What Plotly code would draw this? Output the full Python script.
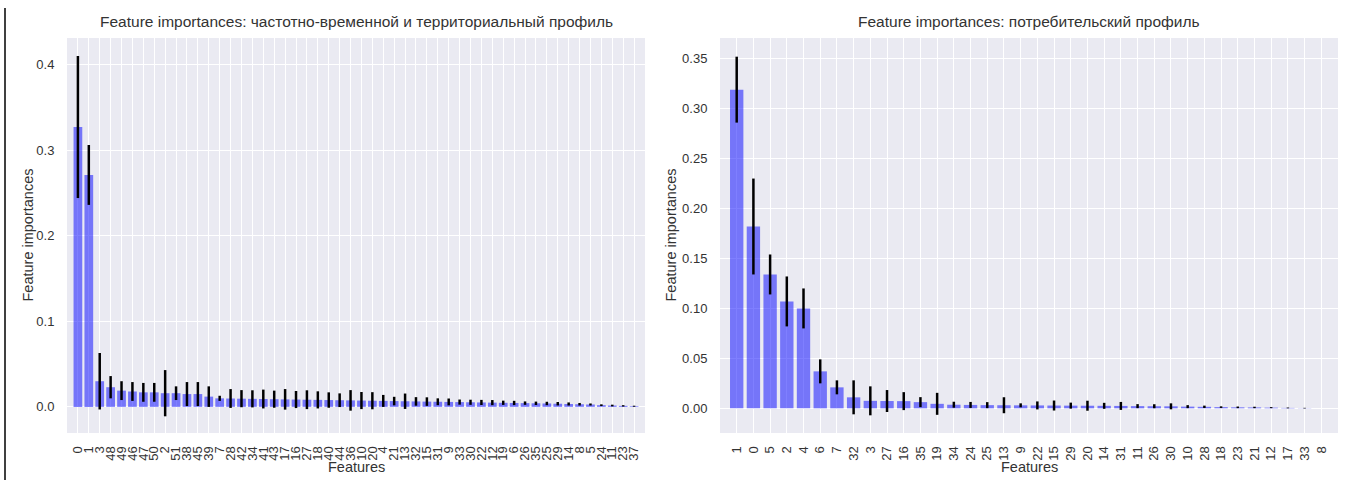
import plotly.graph_objects as go

# ---- data: left chart (частотно-временной и территориальный профиль) ----
left_features = ["0", "1", "3", "48", "49", "46", "47", "50", "2", "51",
                 "38", "45", "39", "7", "28", "42", "34", "41", "43", "17",
                 "16", "27", "18", "40", "44", "36", "10", "20", "4", "21",
                 "13", "32", "15", "31", "9", "33", "30", "22", "12", "19",
                 "6", "26", "35", "25", "29", "14", "8", "5", "24", "11",
                 "23", "37"]
left_importance = [0.327, 0.271, 0.030, 0.023, 0.019, 0.018, 0.017, 0.017, 0.016, 0.016,
                   0.015, 0.015, 0.012, 0.010, 0.0098, 0.0096, 0.0094, 0.0092, 0.0090, 0.0088,
                   0.0086, 0.0084, 0.0082, 0.0080, 0.0078, 0.0076, 0.0074, 0.0072, 0.0070, 0.0068,
                   0.0066, 0.0064, 0.0062, 0.0060, 0.0058, 0.0056, 0.0054, 0.0052, 0.0050, 0.0048,
                   0.0046, 0.0044, 0.0042, 0.0040, 0.0037, 0.0034, 0.0031, 0.0028, 0.0020, 0.0016,
                   0.0012, 0.0008]
left_std = [0.083, 0.035, 0.033, 0.013, 0.011, 0.011, 0.011, 0.011, 0.027, 0.008,
            0.014, 0.014, 0.012, 0.003, 0.011, 0.010, 0.010, 0.011, 0.010, 0.012,
            0.010, 0.011, 0.010, 0.009, 0.008, 0.012, 0.010, 0.010, 0.007, 0.005,
            0.009, 0.005, 0.005, 0.004, 0.004, 0.003, 0.003, 0.003, 0.003, 0.0025,
            0.0025, 0.002, 0.002, 0.002, 0.002, 0.0018, 0.0015, 0.0012, 0.001, 0.001,
            0.0008, 0.0006]

# ---- data: right chart (потребительский профиль) ----
right_features = ["1", "0", "5", "2", "4", "6", "7", "32", "3", "27",
                  "16", "35", "19", "34", "24", "25", "13", "9", "22", "15",
                  "29", "20", "14", "31", "11", "26", "30", "10", "28", "18",
                  "23", "21", "12", "17", "33", "8"]
right_importance = [0.319, 0.182, 0.134, 0.107, 0.100, 0.037, 0.021, 0.011, 0.0075, 0.0073,
                    0.0072, 0.0062, 0.0045, 0.0036, 0.0034, 0.0032, 0.0031, 0.0030, 0.0029, 0.0028,
                    0.0027, 0.0026, 0.0025, 0.0024, 0.0022, 0.0021, 0.0020, 0.0017, 0.0015, 0.0012,
                    0.0010, 0.0009, 0.0007, 0.0004, 0.0002, 0.0]
right_std = [0.033, 0.048, 0.020, 0.025, 0.020, 0.012, 0.007, 0.017, 0.0145, 0.011,
             0.009, 0.005, 0.011, 0.003, 0.003, 0.003, 0.008, 0.002, 0.004, 0.005,
             0.003, 0.005, 0.003, 0.004, 0.002, 0.002, 0.003, 0.0015, 0.0012, 0.0008,
             0.0008, 0.0007, 0.0005, 0.0004, 0.0003, 0.0]

left_yticks = [0.0, 0.1, 0.2, 0.3, 0.4]
left_yticktext = ["0.0", "0.1", "0.2", "0.3", "0.4"]
right_yticks = [0.0, 0.05, 0.10, 0.15, 0.20, 0.25, 0.30, 0.35]
right_yticktext = ["0.00", "0.05", "0.10", "0.15", "0.20", "0.25", "0.30", "0.35"]

left_title = "Feature importances: частотно-временной и территориальный профиль"
right_title = "Feature importances: потребительский профиль"
x_label = "Features"
y_label = "Feature importances"

W, H = 1347, 480
FONT = "Liberation Sans, Arial, sans-serif"
TXT = "#333333"
BG = "#EAEAF2"
BAR = "rgba(0,0,255,0.5)"
TICK_SIZE = 13
LABEL_SIZE = 14.5
TITLE_SIZE = 15.5


def px_x(p):
    return p / W


def px_y(p):
    return 1 - p / H


fig = go.Figure()

fig.add_trace(go.Bar(
    x=left_features, y=left_importance, width=0.8,
    marker=dict(color=BAR, line=dict(width=0)),
    error_y=dict(type="data", array=left_std, color="black", thickness=2.5, width=0),
    xaxis="x", yaxis="y", showlegend=False,
))
fig.add_trace(go.Bar(
    x=right_features, y=right_importance, width=0.8,
    marker=dict(color=BAR, line=dict(width=0)),
    error_y=dict(type="data", array=right_std, color="black", thickness=2.5, width=0),
    xaxis="x2", yaxis="y2", showlegend=False,
))

common_x = dict(type="category", showgrid=True, gridcolor="white", gridwidth=1,
                tickangle=-90, tickfont=dict(size=TICK_SIZE, color=TXT, family=FONT),
                ticks="outside", ticklen=7, tickcolor="rgba(0,0,0,0)",
                zeroline=False, showline=False, automargin=False, tickmode="array")
common_y = dict(showgrid=True, gridcolor="white", gridwidth=1.2, zeroline=False,
                showline=False, ticks="outside", ticklen=9, tickcolor="rgba(0,0,0,0)",
                tickfont=dict(size=TICK_SIZE, color=TXT, family=FONT), automargin=False,
                tickmode="array")

l_left, l_right = 67, 645
r_left, r_right = 720, 1338
top, bottom = 38, 433

fig.update_layout(
    width=W, height=H,
    margin=dict(l=0, r=0, t=0, b=0),
    paper_bgcolor="white",
    plot_bgcolor=BG,
    font=dict(family=FONT, color=TXT),
    xaxis=dict(common_x, domain=[px_x(l_left), px_x(l_right)], range=[-1, len(left_features)],
               anchor="y", categoryorder="array", categoryarray=left_features,
               tickvals=left_features, ticktext=left_features),
    yaxis=dict(common_y, domain=[px_y(bottom), px_y(top)], range=[-0.0305, 0.431],
               tickvals=left_yticks, ticktext=left_yticktext, anchor="x"),
    xaxis2=dict(common_x, domain=[px_x(r_left), px_x(r_right)], range=[-1, len(right_features)],
                anchor="y2", categoryorder="array", categoryarray=right_features,
                tickvals=right_features, ticktext=right_features),
    yaxis2=dict(common_y, domain=[px_y(bottom), px_y(top)], range=[-0.0247, 0.3707],
                tickvals=right_yticks, ticktext=right_yticktext, anchor="x2"),
    annotations=[
        dict(text=left_title, x=px_x((l_left + l_right) / 2), y=px_y(22),
             xref="paper", yref="paper", xanchor="center", yanchor="middle", showarrow=False,
             font=dict(size=TITLE_SIZE, color=TXT, family=FONT)),
        dict(text=right_title, x=px_x((r_left + r_right) / 2), y=px_y(22),
             xref="paper", yref="paper", xanchor="center", yanchor="middle", showarrow=False,
             font=dict(size=TITLE_SIZE, color=TXT, family=FONT)),
        dict(text=x_label, x=px_x((l_left + l_right) / 2), y=px_y(467),
             xref="paper", yref="paper", xanchor="center", yanchor="middle", showarrow=False,
             font=dict(size=LABEL_SIZE, color=TXT, family=FONT)),
        dict(text=x_label, x=px_x((r_left + r_right) / 2), y=px_y(467),
             xref="paper", yref="paper", xanchor="center", yanchor="middle", showarrow=False,
             font=dict(size=LABEL_SIZE, color=TXT, family=FONT)),
        dict(text=y_label, x=px_x(27), y=px_y((top + bottom) / 2), textangle=-90,
             xref="paper", yref="paper", xanchor="center", yanchor="middle", showarrow=False,
             font=dict(size=LABEL_SIZE, color=TXT, family=FONT)),
        dict(text=y_label, x=px_x(670), y=px_y((top + bottom) / 2), textangle=-90,
             xref="paper", yref="paper", xanchor="center", yanchor="middle", showarrow=False,
             font=dict(size=LABEL_SIZE, color=TXT, family=FONT)),
    ],
    shapes=[dict(type="line", xref="paper", yref="paper", x0=px_x(5), x1=px_x(5),
                 y0=px_y(480), y1=px_y(8), line=dict(color="black", width=1.5))],
)

fig.write_html("out.html",
               config={"displayModeBar": False},
               post_script="document.body.style.margin='0';document.body.style.overflow='hidden';")
